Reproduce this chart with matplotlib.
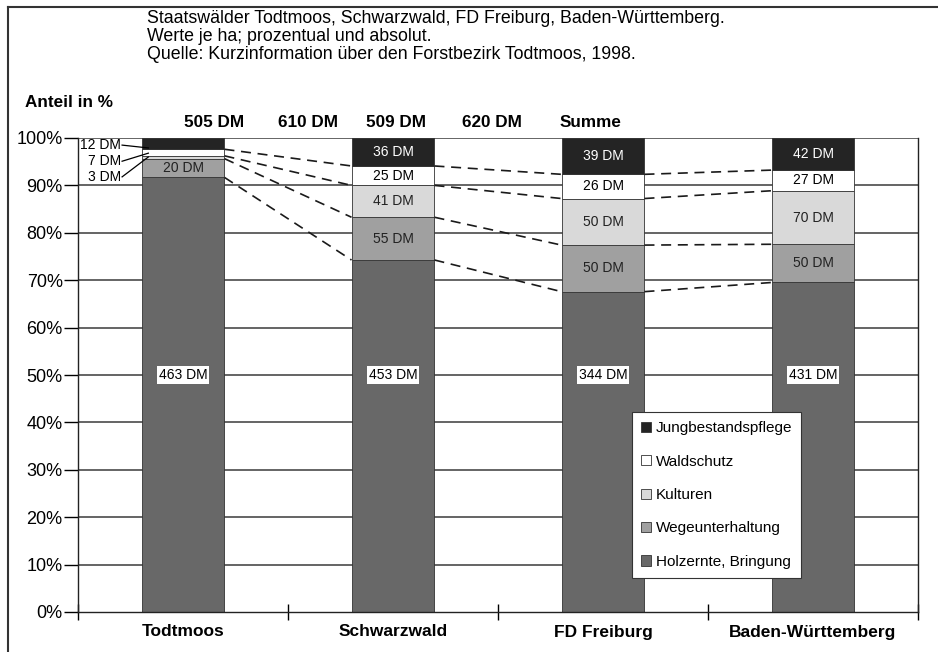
import matplotlib
matplotlib.use("Agg")
import matplotlib.pyplot as plt
import numpy as np
from matplotlib.patches import Patch

plt.rcParams['font.family'] = ['Liberation Sans', 'DejaVu Sans']

# ---------------- data ----------------
regions = ["Todtmoos", "Schwarzwald", "FD Freiburg", "Baden-Württemberg"]
series_names = ["Holzernte, Bringung", "Wegeunterhaltung", "Kulturen", "Waldschutz", "Jungbestandspflege"]
holzernte = [463, 453, 344, 431]
wegeunterhaltung = [20, 55, 50, 50]
kulturen = [3, 41, 50, 70]
waldschutz = [7, 25, 26, 27]
jungbestand = [12, 36, 39, 42]
header_labels = ["505 DM", "610 DM", "509 DM", "620 DM", "Summe"]
yticks = [0, 10, 20, 30, 40, 50, 60, 70, 80, 90, 100]
title_lines = [
    "Staatswälder Todtmoos, Schwarzwald, FD Freiburg, Baden-Württemberg.",
    "Werte je ha; prozentual und absolut.",
    "Quelle: Kurzinformation über den Forstbezirk Todtmoos, 1998.",
]

colors = ["#686868", "#a0a0a0", "#d9d9d9", "#ffffff", "#242424"]
text_colors = ["black", "#222222", "#222222", "black", "white"]

W, H = 938, 652
fig = plt.figure(figsize=(W / 100, H / 100), dpi=100)

def fx(px):
    return px / W

def fy(py):
    return 1 - py / H

ax = fig.add_axes([fx(78), fy(612), (918 - 78) / W, (612 - 138) / H])

data = np.array([holzernte, wegeunterhaltung, kulturen, waldschutz, jungbestand], dtype=float)
totals = data.sum(axis=0)
pct = data / totals * 100
cum = np.vstack([np.zeros(len(regions)), np.cumsum(pct, axis=0)])

x = np.arange(len(regions))
bw = 0.395

# grid lines
for t in yticks[1:]:
    ax.axhline(t, color="#3a3a3a", lw=1.1, zorder=0)

for k in range(len(series_names)):
    ax.bar(x, pct[k], bw, bottom=cum[k], color=colors[k], edgecolor="#333333",
           linewidth=0.6, zorder=2)

# dashed connectors
for k in range(1, len(series_names)):
    for i in range(len(regions) - 1):
        ax.plot([x[i] + bw / 2, x[i + 1] - bw / 2], [cum[k][i], cum[k][i + 1]],
                color="#1a1a1a", lw=1.2, dashes=(6, 4), zorder=3)

# segment labels
for i in range(len(regions)):
    for k in range(len(series_names)):
        if i == 0 and k in (2, 3, 4):
            continue
        yc = cum[k][i] + pct[k][i] / 2
        lab = f"{int(data[k][i])} DM"
        if k == 0:
            ax.text(x[i], 50, lab, ha="center", va="center", fontsize=10, zorder=5,
                    bbox=dict(boxstyle="square,pad=0.15", fc="white", ec="none"))
        else:
            ax.text(x[i], yc, lab, ha="center", va="center", fontsize=10,
                    color=text_colors[k], zorder=5)

# leader labels for Todtmoos small segments
lead = [(4, 98.5, 97.9), (3, 95.1, 96.8), (2, 91.8, 96.0)]
for k, ty, ey in lead:
    ax.text(-0.295, ty, f"{int(data[k][0])} DM", ha="right", va="center", fontsize=10, zorder=5)
    ax.plot([-0.29, -0.165], [ty, ey], color="black", lw=0.9, zorder=6, clip_on=False)

ax.set_xlim(-0.5, len(regions) - 0.5)
ax.set_ylim(0, 100)
ax.set_yticks(yticks)
ax.set_yticklabels([f"{t}%" for t in yticks], fontsize=13)
ax.set_xticks(np.arange(-0.5, len(regions), 1.0))
ax.set_xticklabels([])
ax.set_xticks(x, minor=True)
ax.set_xticklabels(regions, minor=True, fontsize=12.5, fontweight="bold")
ax.tick_params(axis="x", which="major", direction="inout", length=12, width=1)
ax.tick_params(axis="x", which="minor", length=0, pad=9)
ax.tick_params(axis="y", direction="out", length=10, width=1, pad=1)
for s in ax.spines.values():
    s.set_linewidth(1.0)
    s.set_color("#222222")
ax.spines["top"].set_visible(False)

# legend
handles = [Patch(facecolor=colors[k], edgecolor="#333333", linewidth=0.6, label=series_names[k])
           for k in range(len(series_names) - 1, -1, -1)]
leg = ax.legend(handles=handles, loc="lower left", bbox_to_anchor=((632 - 78) / 840, (612 - 578) / 474),
                fontsize=11, frameon=True, fancybox=False, edgecolor="#333333", framealpha=1,
                handlelength=0.65, handleheight=0.65, handletextpad=0.3, labelspacing=1.27,
                borderpad=0.6, borderaxespad=0)
leg.get_frame().set_linewidth(0.8)
leg.set_zorder(10)

# titles
for j, line in enumerate(title_lines):
    fig.text(fx(147), fy(23 + 18 * j), line, fontsize=12.8, va="baseline", ha="left")
fig.text(fx(25), fy(107), "Anteil in %", fontsize=12.3, fontweight="bold", va="baseline")

header_x = [214, 308, 396, 492, 590]
for hx, lab in zip(header_x, header_labels):
    fig.text(fx(hx), fy(127), lab, fontsize=12.3, fontweight="bold", ha="center", va="baseline")

# figure frame (top and left)
fig.add_artist(plt.Line2D([fx(8), fx(938)], [fy(7), fy(7)], color="#333333", lw=1.5))
fig.add_artist(plt.Line2D([fx(8), fx(8)], [fy(7), fy(652)], color="#333333", lw=1.5))

fig.savefig("out.png", dpi=100)
